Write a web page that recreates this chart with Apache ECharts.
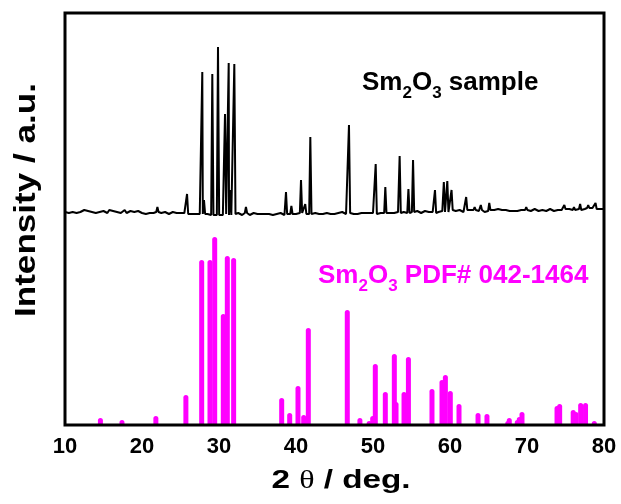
<!DOCTYPE html>
<html>
<head>
<meta charset="utf-8">
<script src="https://cdn.jsdelivr.net/npm/echarts@6/dist/echarts.min.js"></script>
<style>
  html, body { margin: 0; padding: 0; background: #fff; }
  #chart { width: 621px; height: 504px; }
</style>
</head>
<body>
<div id="chart"></div>
<script>
// x axis ticks
const xTicks = [10, 20, 30, 40, 50, 60, 70, 80];

// sample pattern: background (0.25 deg steps from 10)
const bgStart = 10;
const bgStep = 0.25;
const bgNoise = [
  4,6,3,5,4,6,3,5,4,3,6,4,5,3,4,6,3,5,4,3,
  5,4,3,6,4,5,3,4,5,3,4,6,3,4,5,3,4,3,5,4,
  3,4,2,4,3,5,3,2,4,3,3,2,4,3,2,3,4,2,3,2,
  3,2,3,2,3,1,2,3,2,1,2,1,2,1,2,1,2,1,2,1,
  1,2,1,2,1,2,1,3,2,2,3,2,1,2,3,2,1,2,3,2,
  2,3,2,1,2,3,2,2,1,3,2,2,3,2,1,2,3,2,2,3,
  2,3,2,3,2,2,3,2,1,2,3,2,2,3,2,2,3,2,2,3,
  2,3,3,2,4,3,2,2,3,2,2,3,2,4,3,2,3,2,3,2,
  3,2,3,4,3,2,3,2,4,3,2,3,3,4,3,2,4,3,3,4,
  3,4,3,5,4,3,4,5,3,4,5,4,3,5,4,3,5,4,5,4,
  5,6,4,5,4,6,5,4,6,5,4,6,5,6,4,5,6,5,4,6,
  5,6,5,6,5,7,5,6,5,6,7,5,6,5,6,5,7,6,5,6,
  6,7,5,6,7,6,5,7,6,7,5,6,7,6,5,7,6,7,6,7,
  7,6,7,8,6,7,8,7,6,8,7,6,8,7,8,6,7,8,7,6,
  7
];

// sample peaks: position (2theta) and top height
const samplePeakPos = [22.0, 25.85, 27.83, 28.05, 29.13, 29.87, 30.78, 31.26, 31.45, 31.99, 33.5,
  38.7, 39.4, 40.65, 41.2, 41.86, 46.88, 50.35, 51.6, 53.46, 54.6, 55.2, 58.05,
  59.2, 59.65, 60.2, 62.1, 63.2, 64.0, 65.1, 69.9, 74.85, 76.1, 76.9, 77.95, 78.9];
const samplePeakH = [9, 22, 144, 16, 142, 169, 102, 153, 26, 152, 9,
  24, 10, 36, 12, 79, 91, 52, 29, 60, 27, 56, 26,
  34, 35, 26, 19, 9, 11, 13, 9, 11, 9, 12, 11, 13];

// PDF# 042-1464 reference lines
const pdfPos = [14.6, 17.4, 21.8, 25.7, 27.75, 28.83, 29.44, 30.56, 31.08, 31.9,
  38.14, 39.18, 40.26, 41.0, 41.6, 46.66, 48.3, 49.5, 49.96, 50.3, 51.6, 52.77, 52.99,
  54.03, 54.2, 54.6, 57.66, 58.96, 59.4, 60.04, 61.17, 63.64, 64.8, 67.5, 67.7,
  68.74, 69.0, 69.35, 73.9, 74.24, 76.0, 76.36, 76.97, 77.6, 78.74];
const pdfH = [7, 5, 9, 30, 165, 165, 188, 111, 169, 167,
  27, 12, 39, 10, 97, 115, 7, 4, 9, 61, 33, 71, 23,
  33, 8, 68, 36, 45, 50, 34, 21, 12, 11, 4, 7,
  5, 8, 13, 19, 21, 15, 13, 22, 22, 4];

const FONT = '"Liberation Sans", Arial, sans-serif';
const PEAK_W = 0.15;

// build sample profile
const samplePts = [];
bgNoise.forEach((v, i) => {
  const x = bgStart + i * bgStep;
  const inPeak = samplePeakPos.some(p => Math.abs(p - x) < PEAK_W);
  if (!inPeak) samplePts.push([x, v]);
});
samplePeakPos.forEach((p, i) => {
  const base = bgNoise[Math.round((p - bgStart) / bgStep)];
  samplePts.push([p - PEAK_W, base]);
  samplePts.push([p, samplePeakH[i]]);
  samplePts.push([p + PEAK_W, base]);
});
samplePts.sort((a, b) => a[0] - b[0]);

const pdfData = pdfPos.map((p, i) => [p, pdfH[i]]);

const chart = echarts.init(document.getElementById('chart'));

const sub = { fontSize: 17, fontWeight: 'bold', fontFamily: FONT, padding: [15, 0, 0, 0], verticalAlign: 'top' };
const main = { fontSize: 26, fontWeight: 'bold', fontFamily: FONT, lineHeight: 26, verticalAlign: 'top' };

const option = {
  animation: false,
  backgroundColor: '#fff',
  grid: [
    { left: 65, right: 17, top: 13, bottom: 79, show: true, borderColor: '#000', borderWidth: 3, backgroundColor: 'transparent', z: 10 },
    { left: 65, right: 17, top: 16, height: 200 },
    { left: 65, right: 17, top: 225, height: 200 }
  ],
  xAxis: [
    {
      gridIndex: 0, type: 'value', min: xTicks[0], max: xTicks[xTicks.length - 1], interval: 10,
      axisLine: { show: false }, axisTick: { show: false }, splitLine: { show: false },
      axisLabel: { color: '#000', fontSize: 22, fontWeight: 'bold', fontFamily: FONT, margin: 11 }
    },
    { gridIndex: 1, type: 'value', min: 10, max: 80, show: false },
    { gridIndex: 2, type: 'value', min: 10, max: 80, show: false }
  ],
  yAxis: [
    {
      gridIndex: 0, type: 'value', min: 0, max: 1,
      axisLine: { show: false }, axisTick: { show: false }, splitLine: { show: false }, axisLabel: { show: false }
    },
    { gridIndex: 1, type: 'value', min: 0, max: 200, show: false },
    { gridIndex: 2, type: 'value', min: 0, max: 200, show: false }
  ],
  series: [
    {
      name: 'Sm2O3 sample', type: 'line', xAxisIndex: 1, yAxisIndex: 1,
      data: samplePts, showSymbol: false, symbol: 'none',
      lineStyle: { color: '#000', width: 2 }
    },
    {
      name: 'PDF# 042-1464', type: 'bar', xAxisIndex: 2, yAxisIndex: 2,
      data: pdfData, barWidth: 5,
      itemStyle: { color: '#ff00ff', borderRadius: [2.5, 2.5, 0, 0] }
    }
  ],
  graphic: [
    {
      type: 'text', left: 362, top: 70,
      style: {
        text: '{m|Sm}{s|2}{m|O}{s|3}{m| sample}',
        fill: '#000',
        rich: { m: main, s: sub }
      }
    },
    {
      type: 'text', left: 318, top: 263,
      style: {
        text: '{m|Sm}{s|2}{m|O}{s|3}{m| PDF# 042-1464}',
        fill: '#ff00ff',
        rich: { m: main, s: sub }
      }
    },
    {
      // x axis title, theta in a lighter serif face
      type: 'text', x: 341, y: 481, scaleX: 1.28,
      style: {
        text: '{b|2 }{t|θ}{b| / deg.}', fill: '#000', align: 'center', verticalAlign: 'middle',
        rich: {
          b: { fontSize: 26, fontWeight: 'bold', fontFamily: FONT },
          t: { fontSize: 25, fontWeight: 'normal', fontFamily: '"Liberation Serif", serif' }
        }
      }
    },
    {
      // y axis title
      type: 'text', x: 27, y: 200, rotation: Math.PI / 2, scaleX: 1.17,
      style: {
        text: 'Intensity / a.u.', fill: '#000', align: 'center', verticalAlign: 'middle',
        fontSize: 30, fontWeight: 'bold', fontFamily: FONT
      }
    }
  ]
};

chart.setOption(option);
</script>
</body>
</html>
